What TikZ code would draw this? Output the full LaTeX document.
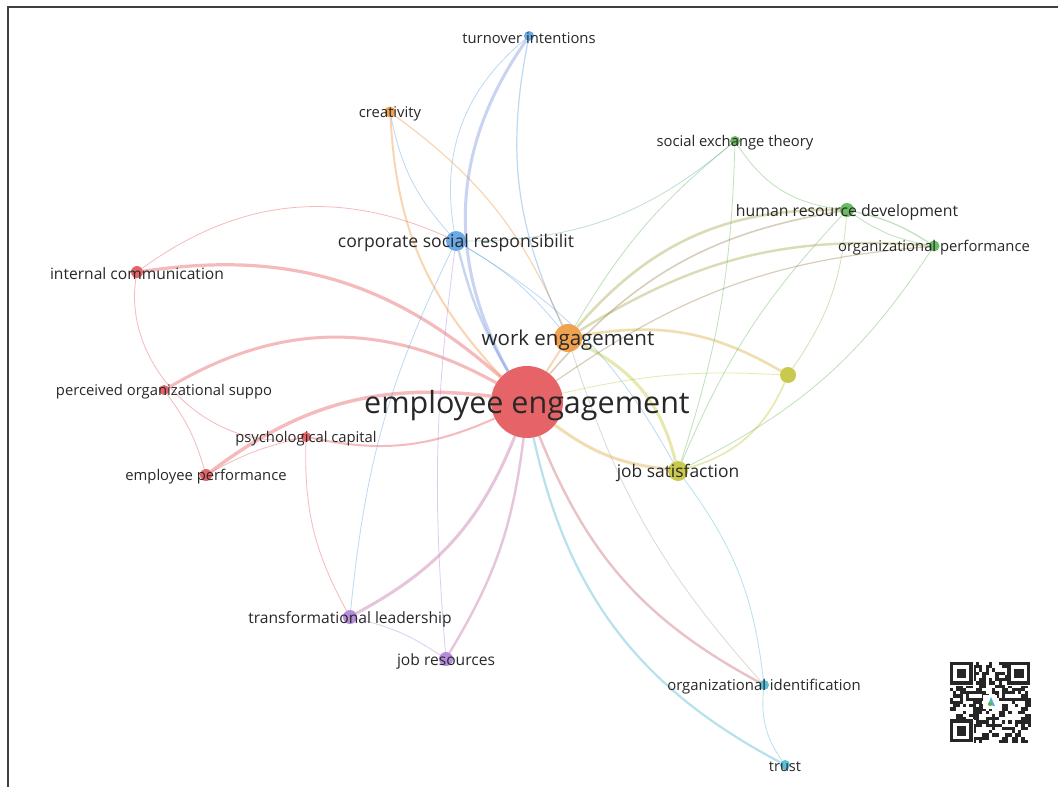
\documentclass[tikz,border=0pt]{standalone}
\usepackage{fontspec}
\setmainfont{Open Sans}
\usetikzlibrary{backgrounds}

\definecolor{eered}{RGB}{228,84,88}
\definecolor{weorange}{RGB}{240,152,62}
\definecolor{csrblue}{RGB}{88,160,228}
\definecolor{jsyellow}{RGB}{196,196,58}
\definecolor{hrdgreen}{RGB}{92,180,84}
\definecolor{tlpurple}{RGB}{172,128,216}
\definecolor{oicyan}{RGB}{76,182,212}
\definecolor{labelgray}{RGB}{40,40,40}

\tikzset{
  kw/.style={circle,inner sep=0pt,minimum size=#1,fill opacity=.9},
  lbl/.style={font=\fontsize{#1}{#1}\selectfont,text=labelgray,inner sep=0pt,yshift=-2pt},
  lnk/.style={line width=#1,draw opacity=.4},
}

\begin{document}
\begin{tikzpicture}[x=1pt,y=-1pt]
\useasboundingbox (0,0) rectangle (1058,787);
\begin{scope}[on background layer]
  \fill[white] (0,0) rectangle (1058,787);
\end{scope}
\draw[line width=2pt,black!75] (8,787) -- (8,7) -- (1058,7);

% keyword circles
\node (ee) [kw=72pt,fill=eered] at (527,402) {};
\node (we) [kw=28pt,fill=weorange] at (568,338) {};
\node (csr) [kw=20pt,fill=csrblue] at (456,241) {};
\node (js) [kw=20pt,fill=jsyellow] at (678,471) {};
\node (yel) [kw=16pt,fill=jsyellow] at (788,375) {};
\node (ti) [kw=10pt,fill=csrblue] at (529,36) {};
\node (cre) [kw=11pt,fill=weorange] at (390,112) {};
\node (set) [kw=10pt,fill=hrdgreen] at (735,141) {};
\node (hrd) [kw=14pt,fill=hrdgreen] at (847,210) {};
\node (op) [kw=11pt,fill=hrdgreen] at (934,246) {};
\node (ic) [kw=12pt,fill=eered] at (137,272) {};
\node (pos) [kw=10pt,fill=eered] at (164,390) {};
\node (pc) [kw=10pt,fill=eered] at (306,437) {};
\node (ep) [kw=12pt,fill=eered] at (206,475) {};
\node (tl) [kw=14pt,fill=tlpurple] at (350,617) {};
\node (jr) [kw=14pt,fill=tlpurple] at (446,659) {};
\node (oi) [kw=10pt,fill=oicyan] at (764,685) {};
\node (tr) [kw=10pt,fill=oicyan] at (785,765) {};

\begin{scope}[on background layer]
  % red cluster
  \draw[lnk=3.2pt,eered] (ic) to[bend left=25] (ee);
  \draw[lnk=3pt,eered] (pos) to[bend left=30] (ee);
  \draw[lnk=3.4pt,eered] (ep) to[bend left=22] (ee);
  \draw[lnk=2pt,eered] (pc) to[bend right=18] (ee);
  \draw[lnk=.8pt,eered] (ic) to[bend right=55] (pc);
  \draw[lnk=.8pt,eered] (ic) to[bend left=30] (csr);
  \draw[lnk=.8pt,eered] (pos) to[bend left=10] (ep);
  \draw[lnk=.8pt,eered] (ep) to[bend left=8] (pc);
  \draw[lnk=.8pt,eered] (pc) to[bend right=15] (tl);
  \draw[lnk=2.4pt,eered!80!oicyan] (ee) to[bend right=20] (oi);
  \draw[lnk=2.2pt,oicyan] (ee) to[bend right=25] (tr);
  % purple cluster
  \draw[lnk=3pt,tlpurple!60!eered] (tl) to[bend right=20] (ee);
  \draw[lnk=2.4pt,tlpurple!60!eered] (jr) to[bend right=12] (ee);
  \draw[lnk=.8pt,tlpurple] (tl) to[bend left=10] (jr);
  \draw[lnk=.8pt,csrblue] (tl) to[bend left=10] (csr);
  \draw[lnk=.8pt,tlpurple] (jr) to[bend left=6] (csr);
  % orange and yellow
  \draw[lnk=2pt,weorange] (ee) to (we);
  \draw[lnk=3pt,weorange!60!jsyellow] (ee) to[bend right=15] (js);
  \draw[lnk=2pt,weorange] (cre) to[bend right=20] (ee);
  \draw[lnk=1.2pt,weorange] (cre) to[bend left=15] (we);
  \draw[lnk=.8pt,csrblue] (cre) to[bend right=15] (csr);
  \draw[lnk=2.6pt,weorange!50!jsyellow] (we) to[bend left=20] (yel);
  \draw[lnk=3pt,jsyellow] (we) to[bend left=25] (js);
  \draw[lnk=1.6pt,jsyellow] (js) to[bend right=25] (yel);
  \draw[lnk=.8pt,jsyellow] (ee) to[bend left=8] (yel);
  \draw[lnk=.8pt,hrdgreen!60!jsyellow] (yel) to[bend right=15] (hrd);
  \draw[lnk=.8pt,hrdgreen] (js) to[bend left=10] (hrd);
  \draw[lnk=.8pt,hrdgreen] (js) to[bend right=8] (set);
  % green cluster
  \draw[lnk=2.6pt,hrdgreen!50!weorange] (we) to[bend left=25] (hrd);
  \draw[lnk=2.4pt,hrdgreen!50!weorange] (we) to[bend left=18] (op);
  \draw[lnk=1.6pt,hrdgreen!50!eered] (ee) to[bend left=20] (hrd);
  \draw[lnk=1.2pt,hrdgreen!50!eered] (ee) to[bend left=15] (op);
  \draw[lnk=.8pt,hrdgreen] (set) to[bend right=25] (hrd);
  \draw[lnk=1.2pt,hrdgreen] (hrd) to[bend left=10] (op);
  \draw[lnk=.8pt,hrdgreen] (hrd) to[bend right=12] (op);
  \draw[lnk=.8pt,hrdgreen] (set) to[bend right=10] (we);
  \draw[lnk=.8pt,csrblue!50!hrdgreen] (csr) to[bend right=20] (set);
  \draw[lnk=.8pt,hrdgreen] (op) to[bend left=15] (js);
  % blue cluster
  \draw[lnk=3pt,csrblue!60!tlpurple] (ti) to[bend right=32] (ee);
  \draw[lnk=.8pt,csrblue] (ti) to[bend right=30] (csr);
  \draw[lnk=1.2pt,csrblue] (ti) to[bend right=18] (we);
  \draw[lnk=2.4pt,csrblue!70!tlpurple] (csr) to[bend right=8] (ee);
  \draw[lnk=.8pt,csrblue] (csr) to[bend left=10] (we);
  \draw[lnk=.8pt,csrblue] (csr) to[bend left=15] (js);
  % cyan cluster
  \draw[lnk=.8pt,oicyan] (oi) to[bend right=20] (tr);
  \draw[lnk=.8pt,oicyan] (js) to[bend left=15] (oi);
  \draw[lnk=.8pt,oicyan!50!weorange] (we) to[bend right=12] (oi);
\end{scope}

% labels
\node (ee-t) [lbl=30.5,yshift=-2pt] at (ee) {employee engagement};
\node (we-t) [lbl=20.5] at (we) {work engagement};
\node (csr-t) [lbl=17.6] at (csr) {corporate social responsibilit};
\node (js-t) [lbl=17.4] at (js) {job satisfaction};
\node (ti-t) [lbl=14.8] at (ti) {turnover intentions};
\node (cre-t) [lbl=14.8] at (cre) {creativity};
\node (set-t) [lbl=14.8] at (set) {social exchange theory};
\node (hrd-t) [lbl=15.8] at (hrd) {human resource development};
\node (op-t) [lbl=14.8] at (op) {organizational performance};
\node (ic-t) [lbl=15.6] at (ic) {internal communication};
\node (pos-t) [lbl=14.8] at (pos) {perceived organizational suppo};
\node (pc-t) [lbl=14.8] at (pc) {psychological capital};
\node (ep-t) [lbl=14.8] at (ep) {employee performance};
\node (tl-t) [lbl=15.6] at (tl) {transformational leadership};
\node (jr-t) [lbl=15.6] at (jr) {job resources};
\node (oi-t) [lbl=14.9] at (oi) {organizational identification};
\node (tr-t) [lbl=14.6] at (tr) {trust};

% QR code
\pgfmathsetseed{17}
\foreach \i in {0,...,24}
  \foreach \j in {0,...,24}{
    \pgfmathparse{int(rnd+0.5)}
    \ifnum\pgfmathresult=1 \fill[black!85] (950+3.24*\i,662+3.24*\j) rectangle ++(3.24,3.24); \fi
  }
\foreach \cx/\cy in {950/662,1007.3/662,950/719.3}{
  \fill[white] (\cx,\cy) rectangle ++(23.7,23.7);
  \fill[black!85] (\cx,\cy) rectangle ++(22.7,22.7);
  \fill[white] (\cx+3.24,\cy+3.24) rectangle ++(16.2,16.2);
  \fill[black!85] (\cx+6.5,\cy+6.5) rectangle ++(9.7,9.7);
}
\fill[white] (983,695) rectangle ++(14,14);
\fill[oicyan] (988,705) -- (991,697) -- (995,706) -- cycle;
\fill[hrdgreen] (990,704) circle (2);
\end{tikzpicture}
\end{document}
